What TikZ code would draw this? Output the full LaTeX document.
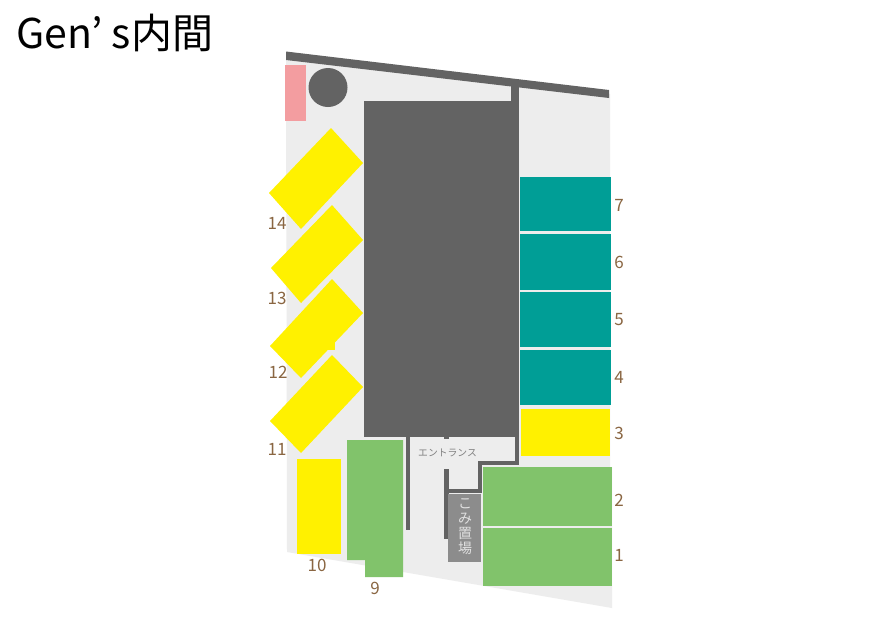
\documentclass[tikz,border=0pt]{standalone}
\usepackage{fontspec}
\setmainfont{Noto Sans CJK JP}
\definecolor{ground}{HTML}{EDEDED}
\definecolor{wall}{HTML}{636363}
\definecolor{teal}{HTML}{009E96}
\definecolor{lot}{HTML}{81C36B}
\definecolor{ylw}{HTML}{FFF100}
\definecolor{pinkbox}{HTML}{F39DA0}
\definecolor{brownnum}{HTML}{8A6642}
\definecolor{gomi}{HTML}{8C8C8C}
\tikzset{
  wallfill/.style={fill=wall,draw=none},
  tealbay/.style={fill=teal,draw=none},
  greenbay/.style={fill=lot,draw=none},
  yellowbay/.style={fill=ylw,draw=none},
  num/.style={text=brownnum,font=\fontsize{17}{18}\selectfont,inner sep=0pt},
}
\begin{document}
\begin{tikzpicture}[x=1pt,y=-1pt]
\useasboundingbox (0,0) rectangle (882,635);
\fill[white] (0,0) rectangle (882,635);
% ground
\fill[ground] (286,56) -- (610,94) -- (610,467) -- (612,467) -- (612,608) -- (287,552) -- cycle;
% roof wall
\fill[wall] (286,51.5) -- (609,90) -- (609,98) -- (286,60) -- cycle;
\fill[wall] (511,84) rectangle (519,124);
% building
\fill[wall] (364,101) rectangle (519,437);
% entrance walls
\fill[wall] (515,437) rectangle (519,465);
\fill[wall] (478,461) rectangle (519,465);
\fill[wall] (478,461) rectangle (482,493);
\fill[wall] (444,489) rectangle (482,493);
\fill[wall] (444,469) rectangle (449,539);
\fill[wall] (406,437) rectangle (410,530);
\fill[wall] (444,437) rectangle (449,439);
% top-left
\fill[pinkbox] (285,65) rectangle (306,121);
\fill[wall] (328,87.5) circle (19.5);
% yellow diagonal bays
\fill[yellowbay] (331,128) -- (363,163) -- (301,229) -- (269,193) -- cycle;
\fill[yellowbay] (332,205) -- (363,240) -- (301,303) -- (271,268) -- cycle;
\fill[yellowbay] (332,279) -- (363,313) -- (301,378) -- (270,346) -- cycle;
\fill[yellowbay] (320,338) rectangle (335,350);
\fill[yellowbay] (332,355) -- (363,387) -- (301,453) -- (270,421) -- cycle;
% yellow upright bays
\fill[yellowbay] (297,459) rectangle (341,554);
\fill[yellowbay] (521,409) rectangle (610,456);
% green bays
\fill[greenbay] (347,440) -- (403,440) -- (403,577) -- (365,577) -- (365,560) -- (347,560) -- cycle;
\fill[greenbay] (482.5,467) rectangle (612,526);
\fill[greenbay] (482.5,528) rectangle (612,586);
% teal bays
\fill[tealbay] (520,176.5) rectangle (611,231);
\fill[tealbay] (520,234) rectangle (611,289.5);
\fill[tealbay] (520,292) rectangle (611,347);
\fill[tealbay] (520,350) rectangle (611,405);
% gomi box
\fill[gomi] (448,494) rectangle (481,562);
\node[text=black!12,font=\fontsize{14}{15}\selectfont,inner sep=0pt,align=center] (gomilabel) at (465,527)
  {こ\\み\\置\\場};
% labels
\node[text=black!50,font=\fontsize{9.8}{11}\selectfont,inner sep=0pt] (entrance) at (447.5,453) {エントランス};
\node[anchor=west,text=black,font=\fontsize{41}{43}\selectfont,inner sep=0pt] (title) at (16,33) {Gen’ s内間};
\node[num] (n1) at (619,555) {1};
\node[num] (n2) at (619,500) {2};
\node[num] (n3) at (619,433) {3};
\node[num] (n4) at (619,377) {4};
\node[num] (n5) at (619,320) {5};
\node[num] (n6) at (619,262) {6};
\node[num] (n7) at (619,205) {7};
\node[num] (n9) at (375,588) {9};
\node[num] (n10) at (317,565) {10};
\node[num] (n11) at (277,449) {11};
\node[num] (n12) at (278,372) {12};
\node[num] (n13) at (277,298) {13};
\node[num] (n14) at (277,223) {14};
\end{tikzpicture}
\end{document}
